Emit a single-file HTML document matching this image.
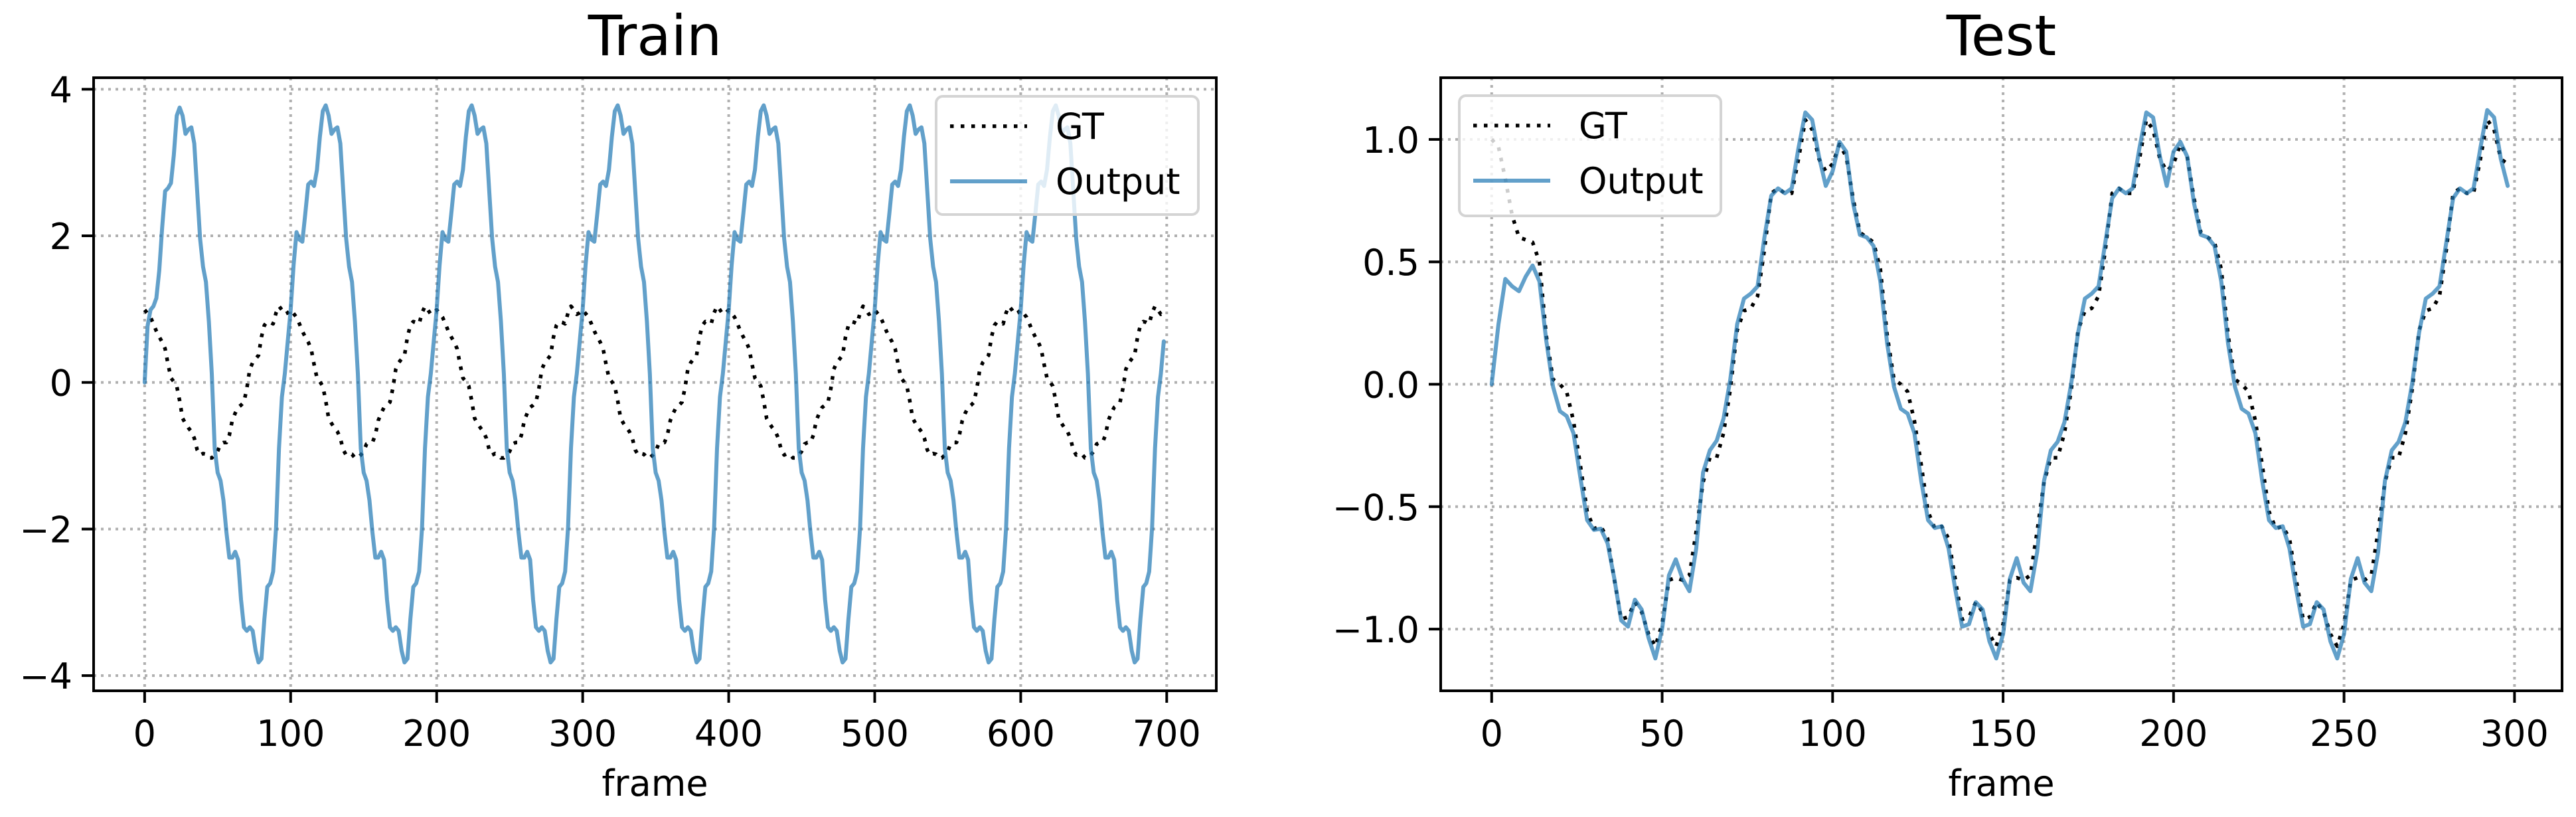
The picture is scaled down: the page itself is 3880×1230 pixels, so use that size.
<!DOCTYPE html>
<html><head><meta charset="utf-8"><style>
html,body{margin:0;padding:0;background:#fff;}
svg{display:block;font-family:"DejaVu Sans","Liberation Sans",sans-serif;}
</style></head><body>
<svg id="fig" width="3880" height="1230" viewBox="0 0 3880 1230" xmlns="http://www.w3.org/2000/svg">
<rect width="3880" height="1230" fill="#fff"/>
</svg>
<script>
// ---- Train data (frames step 2) ----
const trainGT = [
0.99,0.94,0.89,0.80,0.70,0.62,0.55,0.46,0.25,0.06,0.01,-0.05,-0.25,-0.49,-0.56,-0.62,-0.67,-0.76,-0.92,-0.99,-0.97,-0.98,-1.03,-1.03,-0.99,-0.94,-0.84,-0.82,-0.82,-0.72,-0.52,-0.42,-0.34,-0.31,-0.27,-0.08,0.18,0.27,0.32,0.37,0.62,0.78,0.83,0.82,0.80,0.95,1.04,0.99,0.93,0.95,
0.99,0.94,0.89,0.80,0.70,0.62,0.55,0.46,0.25,0.06,0.01,-0.05,-0.25,-0.49,-0.56,-0.62,-0.67,-0.76,-0.92,-0.99,-0.97,-0.98,-1.03,-1.03,-0.99,-0.94,-0.84,-0.82,-0.82,-0.72,-0.52,-0.42,-0.34,-0.31,-0.27,-0.08,0.18,0.27,0.32,0.37,0.62,0.78,0.83,0.82,0.80,0.95,1.04,0.99,0.93,0.95,
0.99,0.94,0.89,0.80,0.70,0.62,0.55,0.46,0.25,0.06,0.01,-0.05,-0.25,-0.49,-0.56,-0.62,-0.67,-0.76,-0.92,-0.99,-0.97,-0.98,-1.03,-1.03,-0.99,-0.94,-0.84,-0.82,-0.82,-0.72,-0.52,-0.42,-0.34,-0.31,-0.27,-0.08,0.18,0.27,0.32,0.37,0.62,0.78,0.83,0.82,0.80,0.95,1.04,0.99,0.93,0.95,
0.99,0.94,0.89,0.80,0.70,0.62,0.55,0.46,0.25,0.06,0.01,-0.05,-0.25,-0.49,-0.56,-0.62,-0.67,-0.76,-0.92,-0.99,-0.97,-0.98,-1.03,-1.03,-0.99,-0.94,-0.84,-0.82,-0.82,-0.72,-0.52,-0.42,-0.34,-0.31,-0.27,-0.08,0.18,0.27,0.32,0.37,0.62,0.78,0.83,0.82,0.80,0.95,1.04,0.99,0.93,0.95,
0.99,0.94,0.89,0.80,0.70,0.62,0.55,0.46,0.25,0.06,0.01,-0.05,-0.25,-0.49,-0.56,-0.62,-0.67,-0.76,-0.92,-0.99,-0.97,-0.98,-1.03,-1.03,-0.99,-0.94,-0.84,-0.82,-0.82,-0.72,-0.52,-0.42,-0.34,-0.31,-0.27,-0.08,0.18,0.27,0.32,0.37,0.62,0.78,0.83,0.82,0.80,0.95,1.04,0.99,0.93,0.95,
0.99,0.94,0.89,0.80,0.70,0.62,0.55,0.46,0.25,0.06,0.01,-0.05,-0.25,-0.49,-0.56,-0.62,-0.67,-0.76,-0.92,-0.99,-0.97,-0.98,-1.03,-1.03,-0.99,-0.94,-0.84,-0.82,-0.82,-0.72,-0.52,-0.42,-0.34,-0.31,-0.27,-0.08,0.18,0.27,0.32,0.37,0.62,0.78,0.83,0.82,0.80,0.95,1.04,0.99,0.93,0.95,
0.99,0.94,0.89,0.80,0.70,0.62,0.55,0.46,0.25,0.06,0.01,-0.05,-0.25,-0.49,-0.56,-0.62,-0.67,-0.76,-0.92,-0.99,-0.97,-0.98,-1.03,-1.03,-0.99,-0.94,-0.84,-0.82,-0.82,-0.72,-0.52,-0.42,-0.34,-0.31,-0.27,-0.08,0.18,0.27,0.32,0.37,0.62,0.78,0.83,0.82,0.80,0.95,1.04,0.99,0.93,0.95
];
const trainOutput = [
0,0.77,0.99,1.04,1.15,1.53,2.12,2.61,2.65,2.72,3.10,3.64,3.75,3.64,3.39,3.45,3.48,3.26,2.61,1.96,1.58,1.37,0.83,0.12,-0.90,-1.23,-1.34,-1.61,-2.04,-2.39,-2.39,-2.31,-2.42,-2.96,-3.34,-3.39,-3.34,-3.39,-3.66,-3.82,-3.77,-3.23,-2.79,-2.74,-2.58,-1.98,-0.90,-0.20,0.12,0.56,
0.99,1.6,2.05,1.95,1.92,2.3,2.7,2.74,2.68,2.9,3.35,3.7,3.78,3.64,3.39,3.45,3.48,3.26,2.61,1.96,1.58,1.37,0.83,0.12,-0.90,-1.23,-1.34,-1.61,-2.04,-2.39,-2.39,-2.31,-2.42,-2.96,-3.34,-3.39,-3.34,-3.39,-3.66,-3.82,-3.77,-3.23,-2.79,-2.74,-2.58,-1.98,-0.90,-0.20,0.12,0.56,
0.99,1.6,2.05,1.95,1.92,2.3,2.7,2.74,2.68,2.9,3.35,3.7,3.78,3.64,3.39,3.45,3.48,3.26,2.61,1.96,1.58,1.37,0.83,0.12,-0.90,-1.23,-1.34,-1.61,-2.04,-2.39,-2.39,-2.31,-2.42,-2.96,-3.34,-3.39,-3.34,-3.39,-3.66,-3.82,-3.77,-3.23,-2.79,-2.74,-2.58,-1.98,-0.90,-0.20,0.12,0.56,
0.99,1.6,2.05,1.95,1.92,2.3,2.7,2.74,2.68,2.9,3.35,3.7,3.78,3.64,3.39,3.45,3.48,3.26,2.61,1.96,1.58,1.37,0.83,0.12,-0.90,-1.23,-1.34,-1.61,-2.04,-2.39,-2.39,-2.31,-2.42,-2.96,-3.34,-3.39,-3.34,-3.39,-3.66,-3.82,-3.77,-3.23,-2.79,-2.74,-2.58,-1.98,-0.90,-0.20,0.12,0.56,
0.99,1.6,2.05,1.95,1.92,2.3,2.7,2.74,2.68,2.9,3.35,3.7,3.78,3.64,3.39,3.45,3.48,3.26,2.61,1.96,1.58,1.37,0.83,0.12,-0.90,-1.23,-1.34,-1.61,-2.04,-2.39,-2.39,-2.31,-2.42,-2.96,-3.34,-3.39,-3.34,-3.39,-3.66,-3.82,-3.77,-3.23,-2.79,-2.74,-2.58,-1.98,-0.90,-0.20,0.12,0.56,
0.99,1.6,2.05,1.95,1.92,2.3,2.7,2.74,2.68,2.9,3.35,3.7,3.78,3.64,3.39,3.45,3.48,3.26,2.61,1.96,1.58,1.37,0.83,0.12,-0.90,-1.23,-1.34,-1.61,-2.04,-2.39,-2.39,-2.31,-2.42,-2.96,-3.34,-3.39,-3.34,-3.39,-3.66,-3.82,-3.77,-3.23,-2.79,-2.74,-2.58,-1.98,-0.90,-0.20,0.12,0.56,
0.99,1.6,2.05,1.95,1.92,2.3,2.7,2.74,2.68,2.9,3.35,3.7,3.78,3.64,3.39,3.45,3.48,3.26,2.61,1.96,1.58,1.37,0.83,0.12,-0.90,-1.23,-1.34,-1.61,-2.04,-2.39,-2.39,-2.31,-2.42,-2.96,-3.34,-3.39,-3.34,-3.39,-3.66,-3.82,-3.77,-3.23,-2.79,-2.74,-2.58,-1.98,-0.90,-0.20,0.12,0.56
];
const trainXTicks = [0,100,200,300,400,500,600,700];
const trainYTicks = [4,2,0,-2,-4];
const trainYLabels = ["4","2","0","\u22122","\u22124"];

// ---- Test data (frames step 2) ----
const testGT = [
1.0,0.97,0.84,0.69,0.60,0.59,0.58,0.5,0.2,0.02,0.0,-0.03,-0.15,-0.33,-0.52,-0.59,-0.58,-0.63,-0.8,-0.96,-0.95,-0.89,-0.93,-1.02,-1.07,-0.98,-0.8,-0.79,-0.8,-0.78,-0.6,-0.4,-0.3,-0.3,-0.2,-0.02,0.22,0.3,0.31,0.36,0.55,0.78,0.8,0.78,0.78,0.92,1.08,1.04,0.92,0.87,
0.9,0.98,0.93,0.76,0.62,0.6,0.58,0.47,0.2,0.02,0.0,-0.03,-0.15,-0.33,-0.52,-0.59,-0.58,-0.63,-0.8,-0.96,-0.95,-0.89,-0.93,-1.02,-1.07,-0.98,-0.8,-0.79,-0.8,-0.78,-0.6,-0.4,-0.3,-0.3,-0.2,-0.02,0.22,0.3,0.31,0.36,0.55,0.78,0.8,0.78,0.78,0.92,1.08,1.04,0.92,0.87,
0.9,0.98,0.93,0.76,0.62,0.6,0.58,0.47,0.2,0.02,0.0,-0.03,-0.15,-0.33,-0.52,-0.59,-0.58,-0.63,-0.8,-0.96,-0.95,-0.89,-0.93,-1.02,-1.07,-0.98,-0.8,-0.79,-0.8,-0.78,-0.6,-0.4,-0.3,-0.3,-0.2,-0.02,0.22,0.3,0.31,0.36,0.55,0.78,0.8,0.78,0.78,0.92,1.08,1.04,0.92,0.9
];
const testOutput = [
0,0.245,0.43,0.40,0.38,0.44,0.485,0.42,0.18,-0.01,-0.11,-0.13,-0.20,-0.38,-0.555,-0.595,-0.59,-0.65,-0.795,-0.965,-0.99,-0.88,-0.92,-1.035,-1.12,-1.0,-0.78,-0.715,-0.795,-0.845,-0.67,-0.36,-0.27,-0.23,-0.14,0.02,0.245,0.35,0.37,0.40,0.60,0.77,0.80,0.78,0.80,0.965,1.11,1.08,0.93,0.81,
0.87,0.99,0.95,0.74,0.61,0.60,0.565,0.42,0.165,-0.01,-0.10,-0.12,-0.20,-0.395,-0.555,-0.587,-0.58,-0.67,-0.84,-0.99,-0.98,-0.89,-0.92,-1.05,-1.12,-1.02,-0.795,-0.71,-0.81,-0.845,-0.685,-0.395,-0.27,-0.235,-0.155,0.005,0.21,0.35,0.37,0.40,0.58,0.76,0.80,0.78,0.80,0.965,1.11,1.09,0.93,0.81,
0.95,0.99,0.93,0.74,0.61,0.60,0.565,0.42,0.165,-0.01,-0.10,-0.12,-0.20,-0.395,-0.555,-0.587,-0.58,-0.67,-0.84,-0.99,-0.98,-0.89,-0.92,-1.05,-1.12,-1.02,-0.795,-0.71,-0.81,-0.845,-0.685,-0.395,-0.27,-0.235,-0.155,0.005,0.21,0.35,0.37,0.40,0.58,0.76,0.80,0.78,0.80,0.965,1.12,1.09,0.92,0.81
];
const testXTicks = [0,50,100,150,200,250,300];
const testYTicks = [1.0,0.5,0.0,-0.5,-1.0];
const testYLabels = ["1.0","0.5","0.0","\u22120.5","\u22121.0"];
const frameStep = 2;

const NS = "http://www.w3.org/2000/svg";
const svg = document.getElementById('fig');
function mk(tag, attrs, parent){
  const e = document.createElementNS(NS, tag);
  for (const k in attrs) e.setAttribute(k, attrs[k]);
  (parent||svg).appendChild(e);
  return e;
}
function linScale(d0,d1,r0,r1){ return v => r0 + (v-d0)*(r1-r0)/(d1-d0); }

function drawPanel(cfg){
  const g = mk('g', {});
  
  
  const X = linScale(cfg.xd[0], cfg.xd[1], cfg.L, cfg.R);
  const Y = linScale(cfg.yd[0], cfg.yd[1], cfg.B, cfg.T);
  // grid
  cfg.xTicks.forEach(t => {
    const l = mk('line', {x1:X(t), x2:X(t), y1:cfg.T, y2:cfg.B, stroke:'#b0b0b0', 'stroke-width':4, 'stroke-dasharray':'4 7'}, g);
    
    
  });
  cfg.yTicks.forEach(t => {
    const l = mk('line', {x1:cfg.L, x2:cfg.R, y1:Y(t), y2:Y(t), stroke:'#b0b0b0', 'stroke-width':4, 'stroke-dasharray':'4 7'}, g);
    
    
  });
  // series
  const ptsGT = cfg.gt.map((v,i) => X(i*frameStep).toFixed(1) + ',' + Y(v).toFixed(1)).join(' ');
  const ptsOut = cfg.out.map((v,i) => X(i*frameStep).toFixed(1) + ',' + Y(v).toFixed(1)).join(' ');
  const pg = mk('polyline', {points:ptsGT, fill:'none', stroke:'#000', 'stroke-width':5.5, 'stroke-dasharray':'5.5 10.5', 'stroke-linejoin':'round'}, g);
  
  
  const po = mk('polyline', {points:ptsOut, fill:'none', stroke:'#1f77b4', 'stroke-opacity':0.7, 'stroke-width':6, 'stroke-linejoin':'round', 'stroke-linecap':'round'}, g);
  
  
  // spines
  const sp = mk('rect', {x:cfg.L, y:cfg.T, width:cfg.R-cfg.L, height:cfg.B-cfg.T, fill:'none', stroke:'#000', 'stroke-width':4}, g);
  
  
  // x ticks
  cfg.xTicks.forEach(t => {
    const tk = mk('line', {x1:X(t), x2:X(t), y1:cfg.B, y2:cfg.B+18, stroke:'#000', 'stroke-width':4}, g);
    
    
    const tx = mk('text', {x:X(t), y:1123, 'font-size':54, 'text-anchor':'middle', fill:'#000'}, g);
    tx.textContent = String(t);
    
    
  });
  cfg.yTicks.forEach((t,i) => {
    const tk = mk('line', {x1:cfg.L-18, x2:cfg.L, y1:Y(t), y2:Y(t), stroke:'#000', 'stroke-width':4}, g);
    
    
    const tx = mk('text', {x:cfg.L-32, y:Y(t)+20, 'font-size':54, 'text-anchor':'end', fill:'#000'}, g);
    tx.textContent = cfg.yLabels[i];
    
    
  });
  const xl = mk('text', {x:(cfg.L+cfg.R)/2, y:1198, 'font-size':54, 'text-anchor':'middle', fill:'#000'}, g);
  xl.textContent = 'frame';
  
  
  const ti = mk('text', {x:(cfg.L+cfg.R)/2, y:83, 'font-size':84, 'text-anchor':'middle', fill:'#000'}, g);
  ti.textContent = cfg.title;
  
  
  // legend
  const lg = mk('g', {}, g);
  
  
  const lb = cfg.leg;
  mk('rect', {x:lb.x, y:lb.y, width:lb.w, height:lb.h, rx:10, fill:'#fff', 'fill-opacity':0.8, stroke:'#d4d4d4', 'stroke-width':4}, lg);
  const l1 = mk('line', {x1:lb.x+21, x2:lb.x+137, y1:lb.y+45, y2:lb.y+45, stroke:'#000', 'stroke-width':5.5, 'stroke-dasharray':'5.5 10.5'}, lg);
  
  
  const t1 = mk('text', {x:lb.x+180, y:lb.y+64, 'font-size':54, fill:'#000'}, lg);
  t1.textContent = 'GT';
  
  
  const l2 = mk('line', {x1:lb.x+21, x2:lb.x+137, y1:lb.y+128, y2:lb.y+128, stroke:'#1f77b4', 'stroke-opacity':0.7, 'stroke-width':6}, lg);
  
  
  const t2 = mk('text', {x:lb.x+180, y:lb.y+147, 'font-size':54, fill:'#000'}, lg);
  t2.textContent = 'Output';
  
  
}

drawPanel({name:'train', title:'Train', L:141, R:1832, T:117, B:1040,
  xd:[-34.95,733.95], yd:[-4.207,4.157], xTicks:trainXTicks, yTicks:trainYTicks, yLabels:trainYLabels,
  gt:trainGT, out:trainOutput, leg:{x:1410,y:145,w:395,h:178}});
drawPanel({name:'test', title:'Test', L:2170, R:3859, T:117, B:1040,
  xd:[-14.95,313.95], yd:[-1.252,1.252], xTicks:testXTicks, yTicks:testYTicks, yLabels:testYLabels,
  gt:testGT, out:testOutput, leg:{x:2198,y:144,w:394,h:181}});
</script>
</body></html>
